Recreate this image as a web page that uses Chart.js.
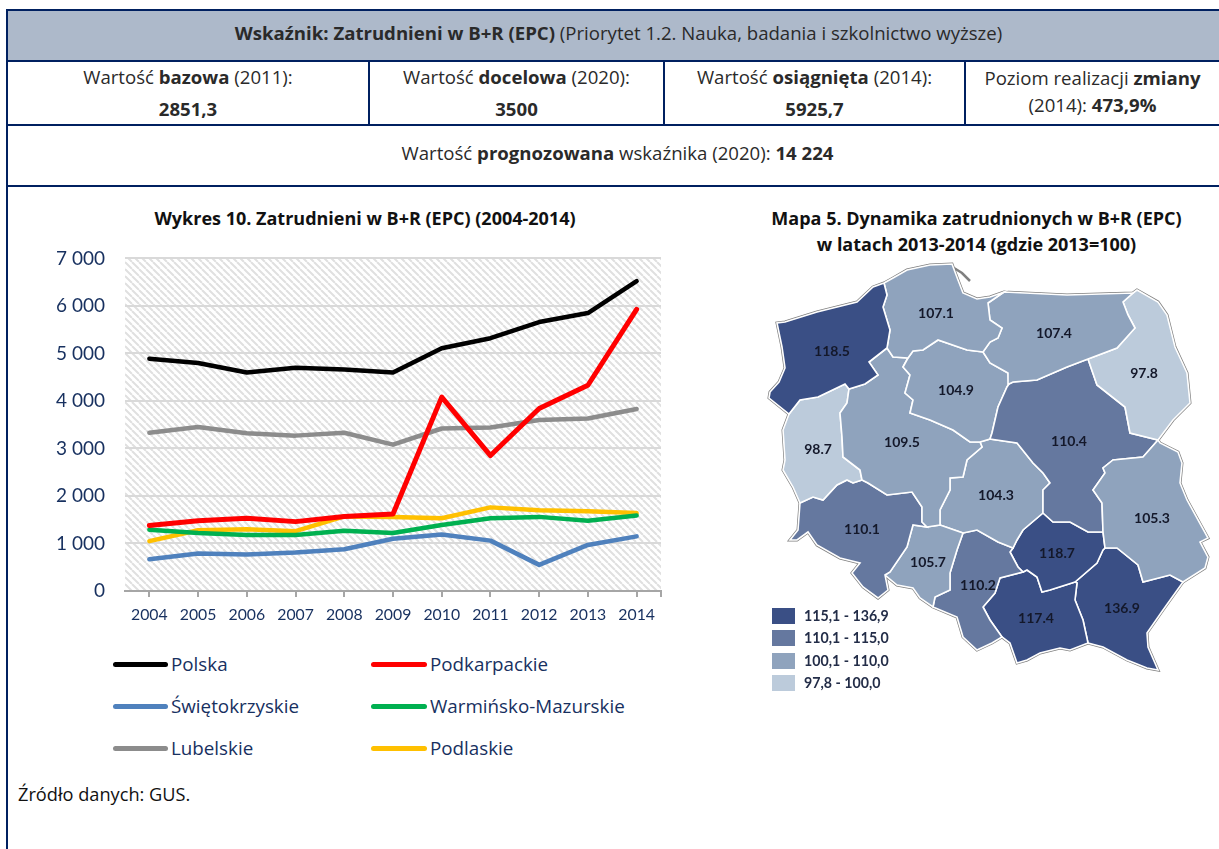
<!DOCTYPE html>
<html lang="pl"><head><meta charset="utf-8">
<script src="https://cdn.jsdelivr.net/npm/chart.js@4"></script>
<style>
html,body{margin:0;padding:0;background:#fff;overflow:hidden}
body{width:1219px;height:849px;position:relative;font-family:"Open Sans",Lato,sans-serif;color:#2a2a2a}
.a{position:absolute}
.ln{position:absolute;background:#002060}
.c{position:absolute;text-align:center;white-space:nowrap;font-size:18.6px;line-height:20px}
b{font-weight:700}
.ttl{position:absolute;text-align:center;font-weight:700;font-size:18px;line-height:22px;color:#111;white-space:nowrap}
.lg{position:absolute;font-size:18.8px;color:#17305f;line-height:22px;white-space:nowrap}
.sw{position:absolute;height:5px;border-radius:3px}
.mk{position:absolute;left:772px;width:23px;height:16px}
.mt{position:absolute;left:804px;font-family:Lato;font-weight:700;font-size:14.2px;line-height:16px;color:#232d48;white-space:nowrap}
canvas{position:absolute}
</style></head><body>
<div class="a" style="left:6px;top:10px;width:1213px;height:51px;background:#adb9ca"></div>
<div class="ln" style="left:6px;top:9px;width:1213px;height:2px"></div>
<div class="ln" style="left:6px;top:60px;width:1213px;height:2px"></div>
<div class="ln" style="left:6px;top:124px;width:1213px;height:2px"></div>
<div class="ln" style="left:6px;top:185px;width:1213px;height:2px"></div>
<div class="ln" style="left:6px;top:9px;width:2px;height:840px"></div>
<div class="ln" style="left:368px;top:61px;width:2px;height:64px"></div>
<div class="ln" style="left:663px;top:61px;width:2px;height:64px"></div>
<div class="ln" style="left:964px;top:61px;width:2px;height:64px"></div>

<div class="c" style="left:8px;width:1221px;top:23px"><b>Wskaźnik: Zatrudnieni w B+R (EPC)</b> (Priorytet 1.2. Nauka, badania i szkolnictwo wyższe)</div>
<div class="c" style="left:8px;width:360px;top:67px">Wartość <b>bazowa</b> (2011):</div>
<div class="c" style="left:8px;width:360px;top:99px"><b>2851,3</b></div>
<div class="c" style="left:370px;width:293px;top:67px">Wartość <b>docelowa</b> (2020):</div>
<div class="c" style="left:370px;width:293px;top:99px"><b>3500</b></div>
<div class="c" style="left:665px;width:299px;top:67px">Wartość <b>osiągnięta</b> (2014):</div>
<div class="c" style="left:665px;width:299px;top:99px"><b>5925,7</b></div>
<div class="c" style="left:966px;width:253px;top:68px">Poziom realizacji <b>zmiany</b></div>
<div class="c" style="left:966px;width:253px;top:95px">(2014): <b>473,9%</b></div>
<div class="c" style="left:8px;width:1219px;top:143px">Wartość <b>prognozowana</b> wskaźnika (2020): <b>14 224</b></div>

<div class="ttl" style="left:20px;width:690px;top:207px">Wykres 10. Zatrudnieni w B+R (EPC) (2004-2014)</div>
<div class="ttl" style="left:735px;width:483px;top:207px">Mapa 5. Dynamika zatrudnionych w B+R (EPC)</div>
<div class="ttl" style="left:735px;width:483px;top:233px">w latach 2013-2014 (gdzie 2013=100)</div>

<canvas id="line" class="a" style="left:20px;top:227px" width="660" height="413"></canvas>
<canvas id="map" class="a" style="left:760px;top:255px" width="459" height="450"></canvas>
<div id="legend"></div>
<div id="mapLegend"></div>
<div class="c" style="left:18px;top:784px;font-size:18.2px;color:#111">Źródło danych: GUS.</div>

<script>
const years = ['2004','2005','2006','2007','2008','2009','2010','2011','2012','2013','2014'];
const polska = [4890,4800,4600,4700,4660,4600,5110,5320,5660,5850,6520];
const podkarpackie = [1380,1480,1530,1460,1570,1620,4080,2851,3840,4330,5926];
const swietokrzyskie = [670,790,770,810,880,1100,1190,1060,550,970,1150];
const warminsko = [1290,1220,1180,1180,1270,1220,1390,1530,1560,1480,1590];
const lubelskie = [3330,3450,3320,3270,3330,3080,3420,3440,3600,3630,3830];
const podlaskie = [1050,1280,1300,1260,1570,1560,1530,1760,1700,1680,1640];
const seriesNames = ['Polska','Podkarpackie','Świętokrzyskie','Warmińsko-Mazurskie','Lubelskie','Podlaskie'];
const seriesColors = ['#000000','#ff0000','#4f81bd','#00b050','#8c8c8c','#ffc000'];
const seriesWidths = [4.5,5,4.5,4.5,4.5,4.5];
const seriesValues = [polska,podkarpackie,swietokrzyskie,warminsko,lubelskie,podlaskie];

/* Map outlines: traced region boundaries, in map units */
const mZach = [[884,283],[873,287],[857,302],[817,312],[785,322],[777,323],[782,347],[785,368],[779,382],[770,392],[769,398],[789,414],[800,400],[818,397],[845,384],[849,389],[865,384],[878,375],[869,362],[887,348],[890,330],[883,307],[887,295]];
const mPom = [[884,283],[893,278],[907,270],[930,265],[952,264],[958,280],[963,293],[977,299],[990,297],[1004,292],[988,303],[990,320],[1002,328],[998,338],[990,342],[983,352],[967,350],[938,340],[923,350],[913,351],[908,358],[893,357],[887,348],[890,330],[883,307],[887,295]];
const mWarm = [[1004,292],[1067,295],[1133,293],[1123,302],[1128,315],[1135,328],[1117,348],[1088,359],[1067,367],[1037,380],[1013,382],[1009,384],[1008,373],[990,363],[983,352],[990,342],[998,338],[1002,328],[990,320],[988,303]];
const mPodl = [[1133,293],[1137,290],[1158,302],[1167,315],[1175,347],[1187,373],[1190,403],[1173,420],[1158,440],[1130,433],[1125,407],[1097,385],[1088,359],[1117,348],[1135,328],[1128,315],[1123,302]];
const mLub = [[1158,440],[1160,443],[1178,452],[1182,463],[1180,483],[1187,500],[1208,538],[1200,542],[1208,557],[1205,568],[1183,582],[1170,575],[1143,582],[1138,565],[1117,548],[1105,548],[1103,532],[1102,503],[1093,490],[1105,473],[1103,468],[1113,460],[1143,457]];
const mMaz = [[1009,384],[1013,382],[1037,380],[1067,367],[1088,359],[1097,385],[1125,407],[1130,433],[1158,440],[1143,457],[1113,460],[1103,468],[1105,473],[1093,490],[1102,503],[1103,532],[1088,532],[1070,522],[1053,522],[1043,513],[1043,490],[1050,483],[1043,473],[1033,463],[1017,443],[990,439],[992,433],[998,407],[1007,387]];
const mKuj = [[908,358],[913,351],[923,350],[938,340],[967,350],[983,352],[990,363],[1008,373],[1009,384],[1007,387],[998,407],[992,433],[990,439],[980,442],[970,442],[953,430],[930,420],[910,413],[913,400],[905,393],[910,375],[903,367]];
const mWlkp = [[887,348],[893,357],[908,358],[903,367],[910,375],[905,393],[913,400],[910,413],[930,420],[953,430],[970,442],[980,442],[982,447],[967,460],[963,477],[950,478],[950,490],[940,510],[940,525],[927,527],[922,522],[922,507],[912,492],[887,495],[868,483],[862,480],[860,470],[843,457],[842,437],[840,413],[847,403],[849,389],[865,384],[878,375],[869,362]];
const mLubu = [[789,414],[800,400],[818,397],[845,384],[849,389],[847,403],[840,413],[842,437],[843,457],[860,470],[862,480],[853,483],[847,480],[837,485],[823,500],[813,497],[800,503],[793,487],[783,470],[785,460],[783,430]];
const mDoln = [[800,503],[813,497],[823,500],[837,485],[847,480],[853,483],[862,480],[868,483],[887,495],[912,492],[922,507],[922,522],[927,527],[913,525],[907,547],[890,572],[885,575],[888,590],[878,598],[863,587],[852,573],[860,563],[840,558],[817,545],[808,532],[797,540],[790,540],[798,530]];
const mOpol = [[913,525],[927,527],[940,525],[963,533],[957,550],[950,573],[950,590],[935,597],[933,607],[920,598],[913,588],[897,585],[885,575],[890,572],[907,547]];
const mLodz = [[980,442],[990,439],[1017,443],[1033,463],[1043,473],[1050,483],[1043,490],[1043,513],[1023,530],[1017,540],[1013,548],[998,542],[977,530],[963,533],[940,525],[940,510],[950,490],[950,478],[963,477],[967,460],[982,447]];
const mSlask = [[963,533],[977,530],[998,542],[1013,548],[1010,552],[1018,567],[1023,572],[1000,578],[995,593],[983,607],[990,620],[1002,637],[992,643],[977,650],[963,637],[957,617],[933,607],[935,597],[950,590],[950,573],[957,550]];
const mSwie = [[1043,513],[1053,522],[1070,522],[1088,532],[1103,532],[1105,548],[1103,550],[1097,563],[1075,582],[1050,590],[1042,592],[1037,577],[1027,570],[1023,572],[1018,567],[1010,552],[1013,548],[1017,540],[1023,530]];
const mMalo = [[1023,572],[1027,570],[1037,577],[1042,592],[1050,590],[1075,582],[1077,583],[1075,600],[1083,620],[1088,643],[1070,650],[1060,648],[1040,653],[1027,660],[1017,663],[1010,643],[1002,637],[990,620],[983,607],[995,593],[1000,578]];
const mPodk = [[1105,548],[1117,548],[1138,565],[1143,582],[1170,575],[1183,582],[1163,610],[1147,633],[1148,647],[1158,670],[1147,668],[1127,660],[1103,647],[1088,643],[1083,620],[1075,600],[1077,583],[1075,582],[1097,563],[1103,550]];
const mCoast = [[789,414],[769,398],[770,392],[779,382],[785,368],[782,347],[777,323],[785,322],[817,312],[857,302],[873,287],[884,283],[893,278],[907,270],[930,265],[952,264],[958,280],[963,293],[977,299],[990,297],[1004,292],[1067,295],[1133,293],[1137,290],[1158,302],[1167,315],[1175,347],[1187,373],[1190,403],[1173,420],[1158,440],[1160,443],[1178,452],[1182,463],[1180,483],[1187,500],[1208,538],[1200,542],[1208,557],[1205,568],[1183,582],[1163,610],[1147,633],[1148,647],[1158,670],[1147,668],[1127,660],[1103,647],[1088,643],[1070,650],[1060,648],[1040,653],[1027,660],[1017,663],[1010,643],[1002,637],[992,643],[977,650],[963,637],[957,617],[933,607],[920,598],[913,588],[897,585],[885,575],[888,590],[878,598],[863,587],[852,573],[860,563],[840,558],[817,545],[808,532],[797,540],[790,540],[798,530],[800,503],[793,487],[783,470],[785,460],[783,430],[789,414]];
const mHel = [[954,268],[962,273],[970,281]];

const regionShapes = [mZach,mPom,mWarm,mPodl,mLub,mMaz,mKuj,mWlkp,mLubu,mDoln,mOpol,mLodz,mSlask,mSwie,mMalo,mPodk];
const regionValues = [118.5,107.1,107.4,97.8,105.3,110.4,104.9,109.5,98.7,110.1,105.7,104.3,110.2,118.7,117.4,136.9];
const regionLabelX = [832,936,1054,1144,1152,1069,956,902,818,862,928,996,978,1057,1036,1122];
const regionLabelY = [351,313,333,373,518,441,390,442,449,529,562,495,585,553,618,608];
const classLabels = ['115,1 - 136,9','110,1 - 115,0','100,1 - 110,0','97,8 - 100,0'];
const classColors = ['#3a4f85','#65789f','#8fa3bd','#bccbdb'];
const classOf = v => v>115 ? 0 : v>110 ? 1 : v>100 ? 2 : 3;

/* HTML legends */
const lgCols = [[113,171],[371,430]], lgRows = [664,706,748];
const lg = document.getElementById('legend');
seriesNames.forEach((n,i)=>{
  const col = lgCols[i%2], y = lgRows[Math.floor(i/2)];
  lg.insertAdjacentHTML('beforeend',
   `<div class="sw" style="left:${col[0]}px;width:${col[1]-col[0]-3}px;top:${y-2}px;background:${seriesColors[i]}"></div>`+
   `<div class="lg" style="left:${col[1]}px;top:${y-11}px">${n}</div>`);
});
const ml = document.getElementById('mapLegend');
classLabels.forEach((t,i)=>{
  const y = [608,630,653,675][i];
  ml.insertAdjacentHTML('beforeend',
   `<div class="mk" style="top:${y}px;background:${classColors[i]}"></div><div class="mt" style="top:${y}px">${t}</div>`);
});

/* diagonal hatch for the plot background */
function hatch(ctx){
  const t=document.createElement('canvas');t.width=7;t.height=7;
  const c=t.getContext('2d');c.strokeStyle='#e0e0e0';c.lineWidth=2;
  [-7,0,7].forEach(dx=>{c.beginPath();c.moveTo(dx,0);c.lineTo(dx+7,7);c.stroke();});
  return ctx.createPattern(t,'repeat');
}
const hatchPlugin = {id:'hatch',beforeDraw(ch){
  const {ctx,chartArea:a}=ch;ctx.save();ctx.fillStyle=hatch(ctx);
  ctx.fillRect(a.left,a.top,a.right-a.left,a.bottom-a.top);ctx.restore();
},afterDraw(ch){
  const {ctx,chartArea:a}=ch;ctx.save();ctx.strokeStyle='#a6a6a6';ctx.lineWidth=2;
  ctx.beginPath();ctx.moveTo(a.right,a.bottom);ctx.lineTo(a.right,a.bottom+6);ctx.stroke();ctx.restore();
}};

new Chart(document.getElementById('line'),{
  type:'line',
  data:{labels:years,datasets:seriesNames.map((n,i)=>({label:n,data:seriesValues[i],borderColor:seriesColors[i],backgroundColor:seriesColors[i],borderWidth:seriesWidths[i],pointRadius:0,tension:0,borderCapStyle:'round',borderJoinStyle:'round',fill:false}))},
  options:{responsive:false,animation:false,
    layout:{autoPadding:false,padding:{top:18,right:19,left:0,bottom:0}},
    plugins:{legend:{display:false},title:{display:false},tooltip:{enabled:false}},
    scales:{
      x:{offset:true,grid:{offset:false,drawOnChartArea:false,drawTicks:true,tickLength:6,color:'#a6a6a6',lineWidth:2},
         border:{color:'#a6a6a6',width:2},
         ticks:{color:'#17305f',font:{family:'Lato',size:15.8},padding:8,maxRotation:0,autoSkip:false},
         afterFit(s){s.height=49;}},
      y:{min:0,max:7000,
         grid:{color:'#d9d9d9',lineWidth:2,drawTicks:false},border:{display:false},
         ticks:{stepSize:1000,color:'#17305f',font:{family:'Lato',size:19},padding:20,
                callback:v=>v===0?'0':String(v).replace(/\B(?=(\d{3})+$)/g,' ')},
         afterFit(s){s.width=105;}}
    }},
  plugins:[hatchPlugin]
});

const toPts = a => a.map(([x,y])=>({x,y}));
const closed = a => toPts(a.concat([a[0]]));
const labelPlugin = {id:'mapLabels',afterDatasetsDraw(ch){
  const {ctx,scales:{x,y}}=ch;ctx.save();ctx.font='700 14px Lato';ctx.fillStyle='#14182a';
  ctx.textAlign='center';ctx.textBaseline='middle';
  regionValues.forEach((v,i)=>ctx.fillText(v.toFixed(1),x.getPixelForValue(regionLabelX[i]),y.getPixelForValue(regionLabelY[i])));
  ctx.restore();
}};
new Chart(document.getElementById('map'),{
  type:'scatter',
  data:{datasets:[
    ...regionShapes.map((s,i)=>({data:closed(s),showLine:true,fill:'shape',tension:0,pointRadius:0,
       backgroundColor:classColors[classOf(regionValues[i])],borderColor:'#ffffff',borderWidth:1.6})),
    {data:toPts(mCoast),showLine:true,fill:false,tension:0,pointRadius:0,borderColor:'#808080',borderWidth:3},
    {data:toPts(mHel),showLine:true,fill:false,tension:0,pointRadius:0,borderColor:'#808080',borderWidth:2.5}
  ]},
  options:{responsive:false,animation:false,layout:{autoPadding:false,padding:0},
    plugins:{legend:{display:false},title:{display:false},tooltip:{enabled:false}},
    scales:{x:{type:'linear',min:760,max:1219,display:false},y:{type:'linear',min:255,max:705,reverse:true,display:false}}},
  plugins:[labelPlugin]
});
</script>
</body></html>
